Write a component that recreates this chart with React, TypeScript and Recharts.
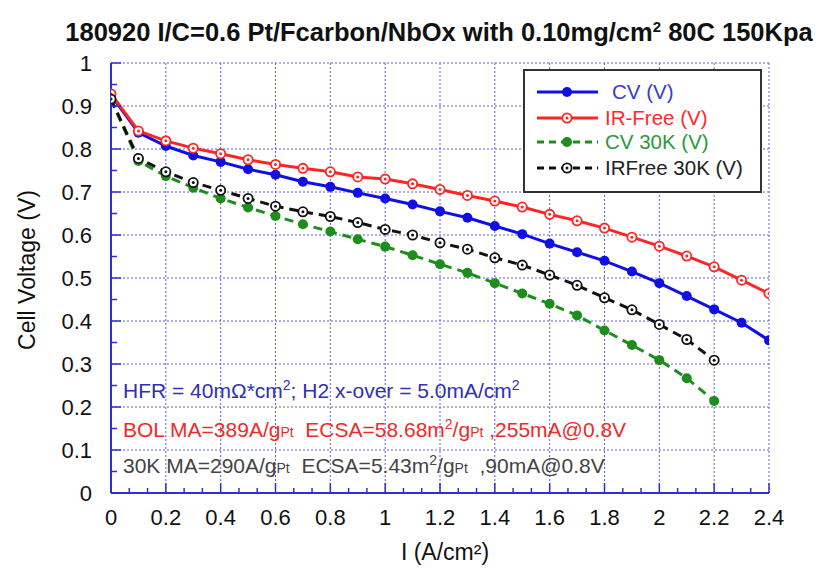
import React from 'react';
import { LineChart, Line, XAxis, YAxis, CartesianGrid } from 'recharts';

// current density (A/cm2) for every measured point
const currentDensity = [
  0, 0.1, 0.2, 0.3, 0.4, 0.5, 0.6, 0.7, 0.8, 0.9, 1.0, 1.1, 1.2,
  1.3, 1.4, 1.5, 1.6, 1.7, 1.8, 1.9, 2.0, 2.1, 2.2, 2.3, 2.4,
];

// BOL polarization
const cvVoltage = [
  0.925, 0.838, 0.807, 0.785, 0.77, 0.753, 0.74, 0.724, 0.712, 0.698, 0.685, 0.671, 0.655,
  0.64, 0.621, 0.602, 0.58, 0.56, 0.54, 0.515, 0.488, 0.458, 0.427, 0.396, 0.355,
];
const irFreeVoltage = [
  0.928, 0.842, 0.819, 0.802, 0.789, 0.775, 0.764, 0.755, 0.747, 0.735, 0.73, 0.719, 0.706,
  0.692, 0.679, 0.665, 0.648, 0.633, 0.616, 0.595, 0.574, 0.551, 0.526, 0.495, 0.464,
];

// after 30K cycles (stops at 2.2 A/cm2)
const cv30kVoltage = [
  0.915, 0.772, 0.737, 0.71, 0.685, 0.664, 0.644, 0.625, 0.608, 0.59, 0.573, 0.553, 0.532,
  0.512, 0.488, 0.464, 0.44, 0.413, 0.378, 0.344, 0.309, 0.267, 0.214,
];
const irFree30kVoltage = [
  0.916, 0.778, 0.747, 0.722, 0.704, 0.685, 0.667, 0.654, 0.643, 0.629, 0.613, 0.6, 0.582,
  0.567, 0.547, 0.53, 0.507, 0.483, 0.454, 0.426, 0.392, 0.357, 0.309,
];

const seriesNames = ['CV (V)', 'IR-Free (V)', 'CV 30K (V)', 'IRFree 30K (V)'];

const xMajorTicks = [0, 0.2, 0.4, 0.6, 0.8, 1, 1.2, 1.4, 1.6, 1.8, 2, 2.2, 2.4];
const yMajorTicks = [0, 0.1, 0.2, 0.3, 0.4, 0.5, 0.6, 0.7, 0.8, 0.9, 1];
// minor ticks: 3 per 0.2 on x, every 0.05 on y
const xMinorTicks = Array.from({ length: 37 }, (_, i) => +((i * 0.2) / 3).toFixed(4));
const yMinorTicks = Array.from({ length: 21 }, (_, i) => +(i * 0.05).toFixed(2));

const bolRows = currentDensity.map((x, i) => ({ x, cv: cvVoltage[i], ir: irFreeVoltage[i] }));
const eolRows = currentDensity
  .slice(0, cv30kVoltage.length)
  .map((x, i) => ({ x, cv30: cv30kVoltage[i], ir30: irFree30kVoltage[i] }));

const FONT = "Arial, 'Liberation Sans', sans-serif";
const AXIS = '#2f2fd6';
const GRID = '#5c5ce4';
const BLUE = '#0f0fe6';
const RED = '#ff2525';
const GREEN = '#1d8d1d';
const BLACK = '#111111';

const isMajor = (v: number, step: number) => Math.abs(v / step - Math.round(v / step)) < 1e-3;
const fmt = (v: number) => String(Number(v.toFixed(1)));

const BottomTick = (props: any) => {
  const { x, y, payload } = props;
  const major = isMajor(payload.value, 0.2);
  return (
    <g>
      <line x1={x} x2={x} y1={y} y2={y - (major ? 10 : 5)} stroke={AXIS} strokeWidth={1.5} />
      {major && (
        <text x={x} y={y + 32} textAnchor="middle" fontSize={22} fontFamily={FONT} fill="#111">
          {fmt(payload.value)}
        </text>
      )}
    </g>
  );
};

const TopTick = (props: any) => {
  const { x, y, payload } = props;
  const major = isMajor(payload.value, 0.2);
  return <line x1={x} x2={x} y1={y} y2={y + (major ? 10 : 5)} stroke={AXIS} strokeWidth={1.5} />;
};

const LeftTick = (props: any) => {
  const { x, y, payload } = props;
  const major = isMajor(payload.value, 0.1);
  return (
    <g>
      <line x1={x} x2={x + (major ? 10 : 6)} y1={y} y2={y} stroke={AXIS} strokeWidth={1.5} />
      {major && (
        <text x={x - 19} y={y + 8} textAnchor="end" fontSize={22} fontFamily={FONT} fill="#111">
          {fmt(payload.value)}
        </text>
      )}
    </g>
  );
};

const RightTick = (props: any) => {
  const { x, y, payload } = props;
  const major = isMajor(payload.value, 0.1);
  return <line x1={x} x2={x - (major ? 10 : 6)} y1={y} y2={y} stroke={AXIS} strokeWidth={1.5} />;
};

const Marker = ({ cx, cy, kind }: { cx: number; cy: number; kind: number }) => {
  if (cx == null || cy == null) return null;
  if (kind === 0) return <circle cx={cx} cy={cy} r={5} fill={BLUE} />;
  if (kind === 2) return <circle cx={cx} cy={cy} r={5} fill={GREEN} />;
  const c = kind === 1 ? RED : BLACK;
  return (
    <g>
      <circle cx={cx} cy={cy} r={4.6} fill="#fff" stroke={c} strokeWidth={1.8} />
      <circle cx={cx} cy={cy} r={1.5} fill={c} />
    </g>
  );
};

const dotFor = (kind: number) => (p: any) => (
  <Marker key={`m-${kind}-${p.index}`} cx={p.cx} cy={p.cy} kind={kind} />
);

const legendStyle = [
  { color: BLUE, dash: undefined, text: '#3a3acc' },
  { color: RED, dash: undefined, text: '#ff2a2a' },
  { color: GREEN, dash: '7 5', text: '#2a9a3a' },
  { color: BLACK, dash: '7 5', text: '#222' },
];

const pre = { whiteSpace: 'pre' as const };

const Overlay = () => (
  <svg width={826} height={570} style={{ position: 'absolute', left: 0, top: 0, pointerEvents: 'none' }}>
    <text x={439} y={41} textAnchor="middle" fontSize={25.5} fontWeight="bold" fontFamily={FONT} fill="#111">
      180920 I/C=0.6 Pt/Fcarbon/NbOx with 0.10mg/cm
      <tspan dy={-9} fontSize={15}>2</tspan>
      <tspan dy={9}> 80C 150Kpa</tspan>
    </text>
    <text
      x={27}
      y={270}
      transform="rotate(-90 27 270)"
      textAnchor="middle"
      dominantBaseline="central"
      fontSize={23}
      fontFamily={FONT}
      fill="#111"
    >
      Cell Voltage (V)
    </text>
    <text x={445} y={552} textAnchor="middle" dominantBaseline="central" fontSize={23} fontFamily={FONT} fill="#111">
      I (A/cm²)
    </text>

    <text x={123} y={398} fontSize={21} fontFamily={FONT} fill="#3030b0" style={pre}>
      HFR = 40mΩ*cm<tspan dy={-8} fontSize={14}>2</tspan>
      <tspan dy={8}>; H2 x-over = 5.0mA/cm</tspan>
      <tspan dy={-8} fontSize={14}>2</tspan>
    </text>
    <text x={123} y={437} fontSize={21} fontFamily={FONT} fill="#f02a2a" style={pre}>
      <tspan>BOL MA=389A/g</tspan>
      <tspan fontSize={14}>Pt</tspan>
      <tspan>{'  ECSA=58.68m'}</tspan>
      <tspan dy={-8} fontSize={14}>2</tspan>
      <tspan dy={8}>/g</tspan>
      <tspan fontSize={14}>Pt</tspan>
      <tspan>{' ,255mA@0.8V'}</tspan>
    </text>
    <text x={123} y={473} fontSize={21} fontFamily={FONT} fill="#444" style={pre}>
      <tspan>30K MA=290A/g</tspan>
      <tspan fontSize={14}>Pt</tspan>
      <tspan>{'  ECSA=5.43m'}</tspan>
      <tspan dy={-8} fontSize={14}>2</tspan>
      <tspan dy={8}>/g</tspan>
      <tspan fontSize={14}>Pt</tspan>
      <tspan>{'  ,90mA@0.8V'}</tspan>
    </text>

    <rect x={524} y={70} width={237} height={122} fill="#fff" stroke="#333" strokeWidth={2} />
    {seriesNames.map((name, i) => {
      const cy = [92, 118, 142, 168][i];
      const s = legendStyle[i];
      return (
        <g key={name}>
          <line x1={537} x2={598} y1={cy} y2={cy} stroke={s.color} strokeWidth={3} strokeDasharray={s.dash} />
          <Marker cx={567} cy={cy} kind={i} />
          <text x={i === 0 ? 612 : 605} y={cy + 7} fontSize={20.5} fontFamily={FONT} fill={s.text}>
            {name}
          </text>
        </g>
      );
    })}
  </svg>
);

export default function App() {
  return (
    <div style={{ position: 'absolute', left: 0, top: 0, width: 826, height: 570, background: '#fff' }}>
      <LineChart width={826} height={570} margin={{ top: 63, right: 57, bottom: 37, left: 51 }}>
        <CartesianGrid
          stroke={GRID}
          strokeDasharray="2 2"
          verticalValues={xMajorTicks}
          horizontalValues={yMajorTicks}
        />
        <XAxis
          dataKey="x"
          type="number"
          domain={[0, 2.4]}
          ticks={xMinorTicks}
          interval={0}
          allowDataOverflow
          height={40}
          tickSize={0}
          tickMargin={0}
          tickLine={false}
          tick={BottomTick}
          axisLine={{ stroke: AXIS, strokeWidth: 2 }}
        />
        <XAxis
          xAxisId="top"
          orientation="top"
          type="number"
          domain={[0, 2.4]}
          ticks={xMinorTicks}
          interval={0}
          allowDataOverflow
          height={0}
          tickSize={0}
          tickMargin={0}
          tickLine={false}
          tick={TopTick}
          axisLine={{ stroke: AXIS, strokeWidth: 2 }}
        />
        <YAxis
          type="number"
          domain={[0, 1]}
          ticks={yMinorTicks}
          interval={0}
          allowDataOverflow
          width={60}
          tickSize={0}
          tickMargin={0}
          tickLine={false}
          tick={LeftTick}
          axisLine={{ stroke: AXIS, strokeWidth: 2 }}
        />
        <YAxis
          yAxisId="right"
          orientation="right"
          type="number"
          domain={[0, 1]}
          ticks={yMinorTicks}
          interval={0}
          allowDataOverflow
          width={0}
          tickSize={0}
          tickMargin={0}
          tickLine={false}
          tick={RightTick}
          axisLine={{ stroke: AXIS, strokeWidth: 2 }}
        />
        <Line data={bolRows} dataKey="cv" name={seriesNames[0]} stroke={BLUE} strokeWidth={3} dot={dotFor(0)} isAnimationActive={false} />
        <Line data={bolRows} dataKey="ir" name={seriesNames[1]} stroke={RED} strokeWidth={3} dot={dotFor(1)} isAnimationActive={false} />
        <Line data={eolRows} dataKey="cv30" name={seriesNames[2]} stroke={GREEN} strokeWidth={3} strokeDasharray="9 6" dot={dotFor(2)} isAnimationActive={false} />
        <Line data={eolRows} dataKey="ir30" name={seriesNames[3]} stroke={BLACK} strokeWidth={3} strokeDasharray="9 6" dot={dotFor(3)} isAnimationActive={false} />
      </LineChart>
      <Overlay />
    </div>
  );
}
